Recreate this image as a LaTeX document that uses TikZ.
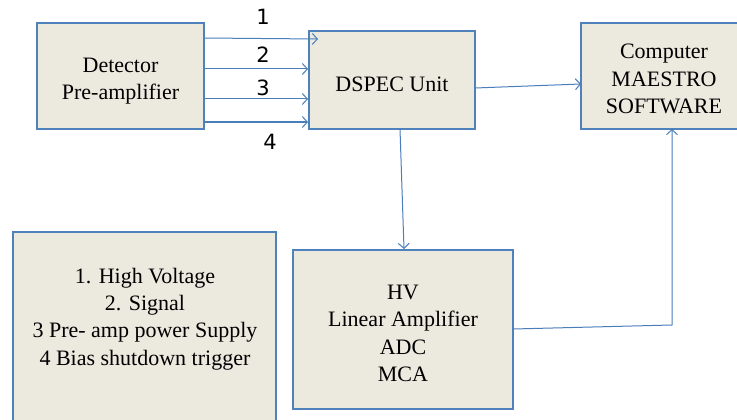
\documentclass[tikz,border=0pt]{standalone}
\usepackage{fontspec}
\setmainfont{Liberation Serif}
\newfontfamily\numfont{DejaVu Sans}
\usetikzlibrary{arrows.meta}
\definecolor{boxfill}{RGB}{236,233,223}
\definecolor{boxline}{RGB}{79,129,189}
\definecolor{arrowc}{RGB}{74,126,187}
\begin{document}
\begin{tikzpicture}[x=1pt,y=-1pt,
  box/.style={draw=boxline,fill=boxfill,line width=2.4pt,inner sep=0pt},
  conn/.style={draw=arrowc,line width=1pt,-{Straight Barb[length=5pt,width=11pt]}},
  num/.style={font=\numfont\fontsize{21}{25}\selectfont,inner sep=1pt},
  label/.style={align=center,font=\fontsize{22}{27.3}\selectfont,inner sep=0pt}]
\useasboundingbox (0,0) rectangle (737,420);
\clip (0,0) rectangle (737,420);
% boxes
\node[box,minimum width=167pt,minimum height=106pt] (det) at (120.5,76) {};
\node[box,minimum width=166pt,minimum height=98pt] (dspec) at (392,80) {};
\node[box,minimum width=166pt,minimum height=106pt] (comp) at (664,76) {};
\node[box,minimum width=263pt,minimum height=200pt] (legendbox) at (144.5,332) {};
\node[box,minimum width=220pt,minimum height=159pt] (hv) at (403,329.5) {};
% texts
\node[label] (detlbl) at (120.5,81) {Detector\\Pre-amplifier};
\node[label] (dspeclbl) at (392,84) {DSPEC Unit};
\node[label] (complbl) at (664,79) {Computer\\MAESTRO\\SOFTWARE};
\node[label] (legend) at (145,319) {1. High Voltage\\2. Signal\\3 Pre- amp power Supply\\4 Bias shutdown trigger};
\node[label] (hvlbl) at (403,333.5) {HV\\Linear Amplifier\\ADC\\MCA};
% connector end points
\coordinate (s1) at (204,38);  \coordinate (e1) at (318,39);
\coordinate (s2) at (204,69);  \coordinate (e2) at (308,69);
\coordinate (s3) at (204,99);  \coordinate (e3) at (308,99);
\coordinate (s4) at (204,122); \coordinate (e4) at (308,122);
\coordinate (ds) at (475,88);  \coordinate (ce) at (581,84);
\coordinate (dd) at (400,129); \coordinate (he) at (404,249);
\coordinate (hs) at (513,329); \coordinate (bend) at (672,325); \coordinate (cb) at (672,129);
% connectors
\draw[conn] (s1) -- (e1);
\draw[conn] (s2) -- (e2);
\draw[conn] (s3) -- (e3);
\draw[conn] (s4) -- (e4);
\draw[conn] (ds) -- (ce);
\draw[conn] (dd) -- (he);
\draw[conn] (hs) -- (bend) -- (cb);
% numbers
\node[num] (n1) at (263,17) {1};
\node[num] (n2) at (263,55) {2};
\node[num] (n3) at (263,88) {3};
\node[num] (n4) at (270,142) {4};
\end{tikzpicture}
\end{document}
